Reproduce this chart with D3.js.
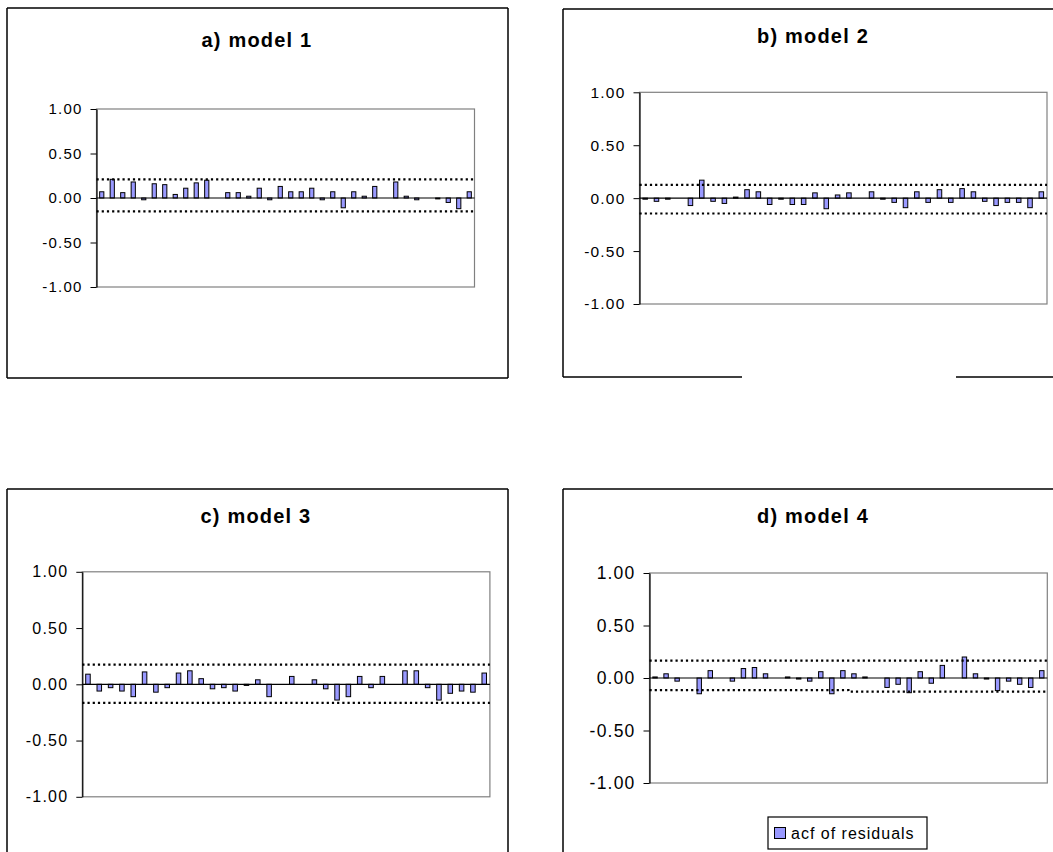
<!DOCTYPE html>
<html>
<head>
<meta charset="utf-8">
<script src="https://cdn.jsdelivr.net/npm/d3@7"></script>
<style>
  html, body { margin: 0; padding: 0; background: #fff; }
  svg { display: block; font-family: "Liberation Sans", Arial, sans-serif; }
</style>
</head>
<body>
<svg id="chart" width="1053" height="852"></svg>
<script>
// ---- data -------------------------------------------------------------
const lags = [1,2,3,4,5,6,7,8,9,10,11,12,13,14,15,16,17,18,
              19,20,21,22,23,24,25,26,27,28,29,30,31,32,33,34,35,36];

const titles = ["a) model 1", "b) model 2", "c) model 3", "d) model 4"];

// residual autocorrelations per lag (null = not reported)
const acfModel1 = [0.07, 0.21, 0.06, 0.18, -0.02, 0.16, 0.15, 0.04, 0.11, 0.17, 0.20, null,
                   0.06, 0.06, 0.02, 0.11, -0.02, 0.13, 0.07, 0.07, 0.11, -0.02, 0.07, -0.11,
                   0.07, 0.02, 0.13, null, 0.18, 0.02, -0.02, null, -0.01, -0.05, -0.12, 0.07];
const acfModel2 = [-0.01, -0.03, -0.01, null, -0.07, 0.17, -0.03, -0.05, 0.01, 0.08, 0.06, -0.06,
                   -0.01, -0.06, -0.06, 0.05, -0.10, 0.03, 0.05, null, 0.06, -0.01, -0.04, -0.09,
                   0.06, -0.04, 0.08, -0.04, 0.09, 0.06, -0.03, -0.07, -0.04, -0.04, -0.09, 0.06];
const acfModel3 = [0.09, -0.06, -0.03, -0.06, -0.11, 0.11, -0.07, -0.03, 0.10, 0.12, 0.05, -0.04,
                   -0.03, -0.06, -0.01, 0.04, -0.11, null, 0.07, null, 0.04, -0.04, -0.14, -0.11,
                   0.07, -0.03, 0.07, null, 0.12, 0.12, -0.03, -0.14, -0.08, -0.06, -0.07, 0.10];
const acfModel4 = [0.01, 0.04, -0.03, null, -0.15, 0.07, null, -0.03, 0.09, 0.10, 0.04, null,
                   0.01, -0.01, -0.03, 0.06, -0.15, 0.07, 0.04, 0.01, null, -0.09, -0.06, -0.14,
                   0.06, -0.05, 0.12, null, 0.20, 0.04, -0.01, -0.12, -0.03, -0.06, -0.09, 0.07];

// confidence bands
const upperBand = [0.21, 0.125, 0.175, 0.165];
const lowerBand = [-0.15, -0.145, -0.165, null];
const lowerBandModel4 = [-0.115, -0.115, -0.115, -0.115, -0.115, -0.115, -0.115, -0.115, -0.115,
                         -0.115, -0.115, -0.115, -0.115, -0.115, -0.115, -0.115, -0.115, -0.115,
                         -0.13, -0.13, -0.13, -0.13, -0.13, -0.13, -0.13, -0.13, -0.13,
                         -0.13, -0.13, -0.13, -0.13, -0.13, -0.13, -0.13, -0.13, -0.13];

const yTicks = [1, 0.5, 0, -0.5, -1];
const legendLabel = "acf of residuals";

// ---- layout -------------------------------------------------------------
const layout = [
  { box: {x: 7,   y: 8,   w: 501, h: 370}, plot: {x: 96.5,  y: 109,   w: 378,   h: 178},
    title: {x: 257, y: 47},  tickFont: 15, tickLS: 1.2 },
  { box: {x: 563, y: 9,   w: 500, h: 368}, plot: {x: 639.5, y: 92.3,  w: 407.5, h: 211.7},
    title: {x: 813, y: 43},  tickFont: 15.5, tickLS: 1.2, gap: [742, 956] },
  { box: {x: 7,   y: 489, w: 501, h: 400}, plot: {x: 82.3,  y: 571.8, w: 407.6, h: 225},
    title: {x: 256, y: 523}, tickFont: 16, tickLS: 1.2 },
  { box: {x: 563, y: 489, w: 500, h: 400}, plot: {x: 649.5, y: 573,   w: 397.8, h: 210},
    title: {x: 813, y: 523}, tickFont: 17.5, tickLS: 1.2, legend: true }
];

const series = [acfModel1, acfModel2, acfModel3, acfModel4];
const BAR_FILL = "#9999ff";

const svg = d3.select("#chart");

layout.forEach((L, i) => {
  const g = svg.append("g");
  const b = L.box, p = L.plot;

  // chart frame
  const frame = g.append("g").attr("stroke", "#000").attr("stroke-width", 1.5).attr("fill", "none");
  frame.append("line").attr("x1", b.x).attr("x2", b.x + b.w).attr("y1", b.y).attr("y2", b.y);
  frame.append("line").attr("x1", b.x).attr("x2", b.x).attr("y1", b.y).attr("y2", b.y + b.h);
  frame.append("line").attr("x1", b.x + b.w).attr("x2", b.x + b.w).attr("y1", b.y).attr("y2", b.y + b.h);
  if (L.gap) {
    frame.append("line").attr("x1", b.x).attr("x2", L.gap[0]).attr("y1", b.y + b.h).attr("y2", b.y + b.h);
    frame.append("line").attr("x1", L.gap[1]).attr("x2", b.x + b.w).attr("y1", b.y + b.h).attr("y2", b.y + b.h);
  } else {
    frame.append("line").attr("x1", b.x).attr("x2", b.x + b.w).attr("y1", b.y + b.h).attr("y2", b.y + b.h);
  }

  // title
  g.append("text")
    .attr("x", L.title.x).attr("y", L.title.y)
    .attr("text-anchor", "middle")
    .attr("font-size", 20).attr("font-weight", "bold")
    .attr("letter-spacing", 1.2)
    .text(titles[i]);

  // scales
  const x = d3.scaleBand().domain(lags).range([p.x, p.x + p.w])
    .paddingInner(0.6).paddingOuter(0.3);
  const y = d3.scaleLinear().domain([-1, 1]).range([p.y + p.h, p.y]);

  // plot area
  g.append("rect")
    .attr("x", p.x).attr("y", p.y).attr("width", p.w).attr("height", p.h)
    .attr("fill", "#fff").attr("stroke", "#808080").attr("stroke-width", 1.2);

  // bars
  const data = lags.map((lag, k) => ({lag, v: series[i][k]})).filter(d => d.v !== null);
  g.append("g").selectAll("rect").data(data).join("rect")
    .attr("x", d => x(d.lag))
    .attr("width", x.bandwidth())
    .attr("y", d => Math.min(y(d.v), y(0)))
    .attr("height", d => Math.abs(y(d.v) - y(0)))
    .attr("fill", BAR_FILL)
    .attr("stroke", "#000").attr("stroke-width", 1);

  // zero line (category axis)
  g.append("line")
    .attr("x1", p.x).attr("x2", p.x + p.w)
    .attr("y1", y(0)).attr("y2", y(0))
    .attr("stroke", "#000").attr("stroke-width", 1.2);

  // confidence bands
  const dotted = sel => sel.attr("fill", "none").attr("stroke", "#000")
    .attr("stroke-width", 2.2).attr("stroke-dasharray", "2.2 3");
  const step = x.step();
  const flat = v => d3.line()([[p.x, y(v)], [p.x + p.w, y(v)]]);
  g.append("path").attr("d", flat(upperBand[i])).call(dotted);
  if (lowerBand[i] !== null) {
    g.append("path").attr("d", flat(lowerBand[i])).call(dotted);
  } else {
    const pts = lags.map((lag, k) => [x(lag) - x.paddingInner() * step / 2, y(lowerBandModel4[k])]);
    pts.push([p.x + p.w, y(lowerBandModel4[lowerBandModel4.length - 1])]);
    pts[0][0] = p.x;
    g.append("path").attr("d", d3.line().curve(d3.curveStepAfter)(pts)).call(dotted);
  }

  // value axis
  const axis = d3.axisLeft(y).tickValues(yTicks).tickFormat(d => d.toFixed(2))
    .tickSize(6).tickSizeOuter(0).tickPadding(8);
  const ax = g.append("g").attr("transform", `translate(${p.x},0)`).call(axis);
  ax.select(".domain").attr("stroke", "#000").attr("stroke-width", 1.2);
  ax.selectAll(".tick line").attr("stroke", "#000");
  ax.selectAll(".tick text")
    .attr("font-family", "\"Liberation Sans\", Arial, sans-serif")
    .attr("font-size", L.tickFont).attr("letter-spacing", L.tickLS)
    .attr("fill", "#000");

  // legend
  if (L.legend) {
    const lg = g.append("g");
    lg.append("rect").attr("x", 768).attr("y", 817).attr("width", 159).attr("height", 32)
      .attr("fill", "#fff").attr("stroke", "#000").attr("stroke-width", 1.2);
    lg.append("rect").attr("x", 774.5).attr("y", 827.5).attr("width", 11).attr("height", 11)
      .attr("fill", BAR_FILL).attr("stroke", "#000").attr("stroke-width", 1);
    lg.append("text").attr("x", 791).attr("y", 838.5)
      .attr("font-size", 16).attr("letter-spacing", 1)
      .text(legendLabel);
  }
});
</script>
</body>
</html>
